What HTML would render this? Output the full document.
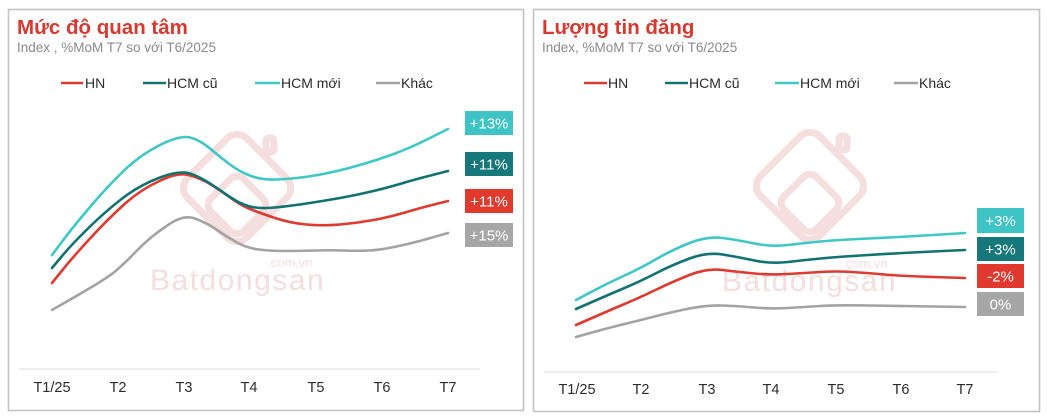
<!DOCTYPE html>
<html><head><meta charset="utf-8">
<style>
html,body{margin:0;padding:0;background:#fff;}
svg{display:block;}
text{font-family:"Liberation Sans",Arial,sans-serif;}
</style></head>
<body>
<svg width="1047" height="420" viewBox="0 0 1047 420" xmlns="http://www.w3.org/2000/svg">
<rect x="0" y="0" width="1047" height="420" fill="#fff"/>
<!-- panel borders -->
<rect x="8.5" y="9.5" width="515" height="401" fill="none" stroke="#c4c4c4" stroke-width="1.6"/>
<rect x="533.5" y="9.5" width="506" height="402" fill="none" stroke="#c4c4c4" stroke-width="1.6"/>

<!-- watermarks -->
<g fill="none" stroke="#f4dede" stroke-width="7" stroke-linejoin="round">
  <rect x="195" y="146" width="84" height="84" rx="14" transform="rotate(45 237 188)"/>
  <rect x="214" y="182" width="46" height="46" rx="9" transform="rotate(45 237 205)"/>
  <rect x="266" y="138" width="8" height="14" rx="3"/>
  <rect x="768" y="144" width="84" height="84" rx="14" transform="rotate(45 810 186)"/>
  <rect x="787" y="180" width="46" height="46" rx="9" transform="rotate(45 810 203)"/>
  <rect x="839" y="136" width="8" height="14" rx="3"/>
</g>
<g fill="#f4dede">
  <text x="150" y="290" font-size="30" letter-spacing="1.5">Batdongsan</text>
  <text x="267" y="267" font-size="13">.com.vn</text>
  <text x="722" y="291" font-size="30" letter-spacing="1.5">Batdongsan</text>
  <text x="842" y="268" font-size="13">.com.vn</text>
</g>

<!-- titles -->
<text x="17" y="34" font-size="20.5" font-weight="bold" fill="#d8392f">Mức độ quan tâm</text>
<text x="17" y="52" font-size="13.5" fill="#8a8a8a">Index , %MoM T7 so với T6/2025</text>
<text x="542" y="34" font-size="20.5" font-weight="bold" fill="#d8392f">Lượng tin đăng</text>
<text x="542" y="52" font-size="13.5" fill="#8a8a8a">Index, %MoM T7 so với T6/2025</text>

<!-- legends -->
<g stroke-width="2.6">
  <line x1="61" y1="83" x2="83" y2="83" stroke="#de3a2f"/>
  <line x1="143" y1="83" x2="166" y2="83" stroke="#127272"/>
  <line x1="255" y1="83" x2="280" y2="83" stroke="#3ec7c7"/>
  <line x1="376" y1="83" x2="400" y2="83" stroke="#a3a3a3"/>
  <line x1="584" y1="83" x2="607" y2="83" stroke="#de3a2f"/>
  <line x1="665" y1="83" x2="688" y2="83" stroke="#127272"/>
  <line x1="775" y1="83" x2="799" y2="83" stroke="#3ec7c7"/>
  <line x1="894" y1="83" x2="918" y2="83" stroke="#a3a3a3"/>
</g>
<g font-size="14" fill="#2b2b2b">
  <text x="85" y="88">HN</text>
  <text x="167" y="88">HCM cũ</text>
  <text x="281" y="88">HCM mới</text>
  <text x="401" y="88">Khác</text>
  <text x="608" y="88">HN</text>
  <text x="689" y="88">HCM cũ</text>
  <text x="800" y="88">HCM mới</text>
  <text x="919" y="88">Khác</text>
</g>

<!-- axes -->
<line x1="19" y1="369" x2="480" y2="369" stroke="#e2e2e2" stroke-width="1.2"/>
<line x1="544" y1="372" x2="998" y2="372" stroke="#e2e2e2" stroke-width="1.2"/>
<g font-size="14.5" fill="#2b2b2b" text-anchor="middle">
  <text x="52" y="392">T1/25</text>
  <text x="118" y="392">T2</text>
  <text x="184" y="392">T3</text>
  <text x="249" y="392">T4</text>
  <text x="316" y="392">T5</text>
  <text x="382" y="392">T6</text>
  <text x="448" y="392">T7</text>
  <text x="577" y="394">T1/25</text>
  <text x="641" y="394">T2</text>
  <text x="707" y="394">T3</text>
  <text x="771" y="394">T4</text>
  <text x="836" y="394">T5</text>
  <text x="901" y="394">T6</text>
  <text x="965" y="394">T7</text>
</g>

<!-- left series -->
<g fill="none" stroke-width="2.6" stroke-linecap="round" stroke-linejoin="round">
  <path stroke="#a3a3a3" d="M52,310 L62.5,304 Q73,298 90,288 Q107,278 115,271.5 Q123,265 136.5,251 Q150,237 166.5,226 Q183,214 195,218.5 Q207,223 217,230 Q227,237 237,242.5 Q247,248 258.5,249.5 Q270,251 285,251 Q300,251 315,250.5 Q330,250 343.5,250.5 Q357,251 368.5,250.5 Q380,250 396.5,246.5 Q413,243 430.5,238 L448,233"/>
  <path stroke="#de3a2f" d="M52,283 L62.5,270 Q73,257 90,238.5 Q107,220 123.5,205 Q140,190 158.5,181.5 Q177,172 188.5,175 Q200,178 210,184 Q220,190 230,197.5 Q240,205 250,209 Q260,213 275,218 Q290,223 306.5,224.5 Q323,226 340,224.5 Q357,223 373.5,220 Q390,217 405,212.5 Q420,208 434,204.5 L448,201"/>
  <path stroke="#127272" d="M52,268 L62.5,255.5 Q73,243 90,226.5 Q107,210 123.5,197.5 Q140,185 160,177.5 Q180,170 190,173.5 Q200,177 210,183.5 Q220,190 230,197 Q240,204 250,206.5 Q260,209 275,207.5 Q290,206 306.5,203.5 Q323,201 340,198 Q357,195 373.5,191 Q390,187 401.5,183.5 Q413,180 430.5,175.5 L448,171"/>
  <path stroke="#3ec7c7" d="M52,255 L62.5,241 Q73,227 90,207 Q107,187 123.5,171 Q140,155 160,145 Q180,135 190,137.5 Q200,140 210,148.5 Q220,157 230,164.5 Q240,172 251,176 Q262,180 276,179.5 Q290,179 305,177 Q320,175 335,171.5 Q350,168 365,163.5 Q380,159 395,153.5 Q410,148 429,138.5 L448,129"/>
</g>

<!-- right series -->
<g fill="none" stroke-width="2.6" stroke-linecap="round" stroke-linejoin="round">
  <path stroke="#a3a3a3" d="M576,337 L592,332.5 Q608,328 624.5,324 Q641,320 656.5,316 Q672,312 689.5,308.5 Q707,305 722.5,305.5 Q738,306 754.5,307.5 Q771,309 788,308 Q805,307 820.5,306 Q836,305 868.5,305.5 Q901,306 933,306.5 L965,307"/>
  <path stroke="#de3a2f" d="M576,325 L592,318 Q608,311 624.5,304 Q641,297 656.5,289.5 Q672,282 689.5,275 Q707,268 722.5,270 Q738,272 754.5,273.5 Q771,275 788,274 Q805,273 820.5,272 Q836,271 852,272 Q868,273 884.5,274.5 Q901,276 933,277 L965,278"/>
  <path stroke="#127272" d="M576,309 L592,302 Q608,295 624.5,288 Q641,281 656.5,273 Q672,265 689.5,258.5 Q707,252 722.5,254.5 Q738,257 754.5,260.5 Q771,264 788,262 Q805,260 820.5,258.5 Q836,257 868.5,255 Q901,253 933,251.5 L965,250"/>
  <path stroke="#3ec7c7" d="M576,300 L592,291.5 Q608,283 624.5,275.5 Q641,268 656.5,259 Q672,250 689.5,243 Q707,236 722.5,238 Q738,240 754.5,243.5 Q771,247 788,245 Q805,243 820.5,241.5 Q836,240 868.5,238.5 Q901,237 933,235 L965,233"/>
</g>

<!-- value labels left -->
<rect x="465" y="111" width="48" height="24" fill="#3ec4c4"/>
<rect x="465" y="152" width="48" height="24" fill="#16787a"/>
<rect x="465" y="189" width="48" height="24" fill="#e03a2f"/>
<rect x="465" y="223" width="48" height="24" fill="#a6a6a6"/>
<!-- value labels right -->
<rect x="977" y="208" width="47" height="25" fill="#3ec4c4"/>
<rect x="977" y="237" width="47" height="24" fill="#16787a"/>
<rect x="977" y="264" width="47" height="24" fill="#e03a2f"/>
<rect x="977" y="292" width="47" height="24" fill="#a6a6a6"/>
<g font-size="15" fill="#fff" text-anchor="middle">
  <text x="489" y="128.5">+13%</text>
  <text x="489" y="169.5">+11%</text>
  <text x="489" y="206.5">+11%</text>
  <text x="489" y="240.5">+15%</text>
  <text x="1000.5" y="226">+3%</text>
  <text x="1000.5" y="254.5">+3%</text>
  <text x="1000.5" y="281.5">-2%</text>
  <text x="1000.5" y="309.5">0%</text>
</g>
</svg>
</body></html>
